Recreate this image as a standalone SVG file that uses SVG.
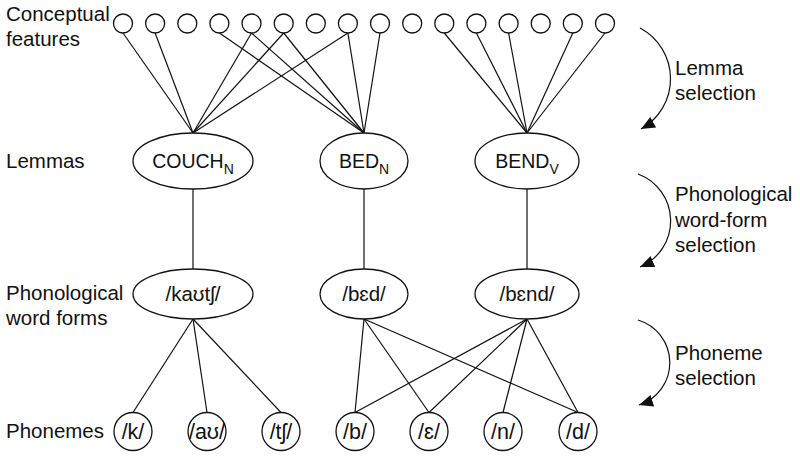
<svg xmlns="http://www.w3.org/2000/svg" width="800" height="457" viewBox="0 0 800 457">
<style>
text{font-family:"Liberation Sans",Arial,"DejaVu Sans",sans-serif;fill:#111}
.lab{font-size:20.5px}
.lem{font-size:19.5px;text-anchor:middle}
.wf{font-size:20.5px;text-anchor:middle}
.sub{font-size:14px}
.ph{font-size:21.5px;text-anchor:middle}
.n{fill:#fff;stroke:#111;stroke-width:1.3}
.c line{stroke:#111;stroke-width:1.2}
.arc{fill:none;stroke:#111;stroke-width:1.2}
</style>
<defs>
<marker id="ah" viewBox="0 0 14 12" refX="14" refY="6" markerWidth="14" markerHeight="12" markerUnits="userSpaceOnUse" orient="auto">
<path d="M0,0 L14,6 L0,12 z" fill="#111"/>
</marker>
</defs>
<rect width="800" height="457" fill="#fff"/>
<g id="connectors" class="c">
<line x1="123" y1="33" x2="193" y2="133"/>
<line x1="155.1" y1="33" x2="193" y2="133"/>
<line x1="251.5" y1="33" x2="193" y2="133"/>
<line x1="283.7" y1="33" x2="193" y2="133"/>
<line x1="347.9" y1="33" x2="193" y2="133"/>
<line x1="219.4" y1="33" x2="364" y2="133"/>
<line x1="251.5" y1="33" x2="364" y2="133"/>
<line x1="283.7" y1="33" x2="364" y2="133"/>
<line x1="347.9" y1="33" x2="364" y2="133"/>
<line x1="380" y1="33" x2="364" y2="133"/>
<line x1="444.3" y1="33" x2="527" y2="133"/>
<line x1="476.4" y1="33" x2="527" y2="133"/>
<line x1="508.6" y1="33" x2="527" y2="133"/>
<line x1="572.8" y1="33" x2="527" y2="133"/>
<line x1="605" y1="33" x2="527" y2="133"/>
<line x1="193" y1="189" x2="193" y2="269"/>
<line x1="364" y1="189" x2="364" y2="269"/>
<line x1="527" y1="189" x2="527" y2="269"/>
<line x1="193" y1="319" x2="133" y2="412.5"/>
<line x1="193" y1="319" x2="207" y2="412.5"/>
<line x1="193" y1="319" x2="281" y2="412.5"/>
<line x1="364" y1="319" x2="355" y2="412.5"/>
<line x1="364" y1="319" x2="429" y2="412.5"/>
<line x1="364" y1="319" x2="578" y2="412.5"/>
<line x1="527" y1="319" x2="355" y2="412.5"/>
<line x1="527" y1="319" x2="429" y2="412.5"/>
<line x1="527" y1="319" x2="503" y2="412.5"/>
<line x1="527" y1="319" x2="578" y2="412.5"/>
</g>
<g id="features">
<circle class="n" cx="123" cy="23.5" r="9.5"/>
<circle class="n" cx="155.1" cy="23.5" r="9.5"/>
<circle class="n" cx="187.3" cy="23.5" r="9.5"/>
<circle class="n" cx="219.4" cy="23.5" r="9.5"/>
<circle class="n" cx="251.5" cy="23.5" r="9.5"/>
<circle class="n" cx="283.7" cy="23.5" r="9.5"/>
<circle class="n" cx="315.8" cy="23.5" r="9.5"/>
<circle class="n" cx="347.9" cy="23.5" r="9.5"/>
<circle class="n" cx="380" cy="23.5" r="9.5"/>
<circle class="n" cx="412.2" cy="23.5" r="9.5"/>
<circle class="n" cx="444.3" cy="23.5" r="9.5"/>
<circle class="n" cx="476.4" cy="23.5" r="9.5"/>
<circle class="n" cx="508.6" cy="23.5" r="9.5"/>
<circle class="n" cx="540.7" cy="23.5" r="9.5"/>
<circle class="n" cx="572.8" cy="23.5" r="9.5"/>
<circle class="n" cx="605" cy="23.5" r="9.5"/>
</g>
<g id="lemma-couch"><ellipse class="n" cx="193" cy="161" rx="60" ry="28"/><text class="lem" x="193" y="168">COUCH<tspan class="sub" dy="6">N</tspan></text></g>
<g id="lemma-bed"><ellipse class="n" cx="364" cy="161" rx="44" ry="28"/><text class="lem" x="364" y="168">BED<tspan class="sub" dy="6">N</tspan></text></g>
<g id="lemma-bend"><ellipse class="n" cx="527" cy="161" rx="52" ry="28"/><text class="lem" x="527" y="168">BEND<tspan class="sub" dy="6">V</tspan></text></g>
<g id="form-kautsh"><ellipse class="n" cx="193" cy="294" rx="60" ry="25"/><text class="wf" x="193" y="301">/kaʊtʃ/</text></g>
<g id="form-bed"><ellipse class="n" cx="364" cy="294" rx="44" ry="25"/><text class="wf" x="364" y="301">/bɛd/</text></g>
<g id="form-bend"><ellipse class="n" cx="527" cy="294" rx="52" ry="25"/><text class="wf" x="527" y="301">/bɛnd/</text></g>
<g id="ph-k"><circle class="n" cx="133" cy="431.5" r="19"/><text class="ph" x="133" y="439">/k/</text></g>
<g id="ph-au"><circle class="n" cx="207" cy="431.5" r="19"/><text class="ph" x="207" y="439">/aʊ/</text></g>
<g id="ph-tsh"><circle class="n" cx="281" cy="431.5" r="19"/><text class="ph" x="281" y="439">/tʃ/</text></g>
<g id="ph-b"><circle class="n" cx="355" cy="431.5" r="19"/><text class="ph" x="355" y="439">/b/</text></g>
<g id="ph-e"><circle class="n" cx="429" cy="431.5" r="19"/><text class="ph" x="429" y="439">/ɛ/</text></g>
<g id="ph-n"><circle class="n" cx="503" cy="431.5" r="19"/><text class="ph" x="503" y="439">/n/</text></g>
<g id="ph-d"><circle class="n" cx="578" cy="431.5" r="19"/><text class="ph" x="578" y="439">/d/</text></g>
<g id="labels">
<text class="lab" x="6" y="21">Conceptual</text>
<text class="lab" x="6" y="46">features</text>
<text class="lab" x="6" y="168">Lemmas</text>
<text class="lab" x="6" y="300">Phonological</text>
<text class="lab" x="6" y="325">word forms</text>
<text class="lab" x="6" y="438">Phonemes</text>
</g>
<g id="stages">
<path class="arc" d="M640,28 A57.5,57.5 0 0 1 641,129" marker-end="url(#ah)"/>
<path class="arc" d="M638,174 A50,50 0 0 1 640,267" marker-end="url(#ah)"/>
<path class="arc" d="M638,320 A44.5,44.5 0 0 1 639,405" marker-end="url(#ah)"/>
<text class="lab" x="675" y="75">Lemma</text>
<text class="lab" x="675" y="100">selection</text>
<text class="lab" x="675" y="201">Phonological</text>
<text class="lab" x="675" y="226.5">word-form</text>
<text class="lab" x="675" y="252">selection</text>
<text class="lab" x="675" y="360">Phoneme</text>
<text class="lab" x="675" y="385">selection</text>
</g>
</svg>
